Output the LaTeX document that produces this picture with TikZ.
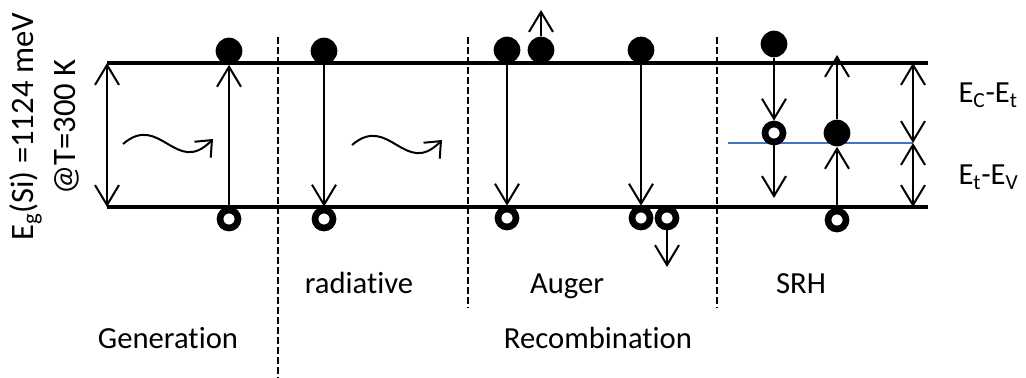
\documentclass[tikz,border=0pt]{standalone}
\usepackage{fontspec}
\setmainfont{Carlito}[Ligatures=NoCommon]
\usetikzlibrary{arrows.meta}

\tikzset{every picture/.style={line width=0.75pt}}
\tikzset{
  band/.style={line width=2.4pt},
  trapline/.style={line width=2.2pt, draw={rgb,255:red,68;green,114;blue,196}},
  divider/.style={line width=1.4pt, dash pattern=on 5pt off 2.5pt},
  electron/.style={circle, fill=black, inner sep=0pt, minimum size=20pt},
  hole/.style={circle, draw=black, line width=5pt, inner sep=0pt, outer sep=2.5pt, minimum size=13.5pt},
  jump/.style={line width=1.5pt, -{Straight Barb[length=15pt,width=18pt]}},
  span/.style={line width=1.5pt, {Straight Barb[length=15pt,width=18pt]}-{Straight Barb[length=15pt,width=18pt]}},
  photon/.style={line width=1.5pt, -{Straight Barb[length=10pt,width=17pt]}},
  lbl/.style={font=\fontsize{23}{27}\selectfont, inner sep=0pt, anchor=base},
  sidelbl/.style={font=\fontsize{24.5}{29}\selectfont, inner sep=0pt, anchor=base, rotate=90},
  elbl/.style={font=\fontsize{23}{27}\selectfont, inner sep=0pt, anchor=base west}
}

\begin{document}
\begin{tikzpicture}[x=0.75pt,y=0.75pt,yscale=-1,xscale=1]
\useasboundingbox (0,0) rectangle (1026,378);

%Band edges
\coordinate (cbL) at (107,63);
\coordinate (cbR) at (928,63);
\coordinate (vbL) at (107,207);
\coordinate (vbR) at (928,207);
\draw[band] (cbL) -- (cbR);
\draw[band] (vbL) -- (vbR);

%Trap level
\coordinate (tL) at (728,143);
\coordinate (tR) at (913,143);
\draw[trapline] (tL) -- (tR);

%Dashed dividers
\coordinate (d1t) at (278,37);
\coordinate (d1b) at (278,378);
\coordinate (d2t) at (468,37);
\coordinate (d2b) at (468,308);
\coordinate (d3t) at (717,37);
\coordinate (d3b) at (717,308);
\draw[divider] (d1t) -- (d1b);
\draw[divider] (d2t) -- (d2b);
\draw[divider] (d3t) -- (d3b);

%Carriers
\node[electron] (eG) at (229,51) {};
\node[hole] (hG) at (229,219) {};
\node[electron] (eR) at (324,51) {};
\node[hole] (hR) at (324,219) {};
\node[electron] (eA1) at (507,50) {};
\node[electron] (eA2) at (541,50) {};
\node[electron] (eA3) at (641,50) {};
\node[hole] (hA1) at (507,218) {};
\node[hole] (hA2) at (641,218) {};
\node[hole] (hA3) at (667,218) {};
\node[electron] (eS1) at (774,44) {};
\node[hole] (hS1) at (774,133) {};
\node[electron] (eS2) at (837,133) {};
\node[hole] (hS2) at (837,220) {};

%Free ends
\coordinate (gapT) at (107,63);
\coordinate (gapB) at (107,207);
\coordinate (upA) at (541,10);
\coordinate (dnA) at (667,267);
\coordinate (dnS) at (774,198);
\coordinate (upS) at (837,55);
\coordinate (sC) at (913,63);
\coordinate (sT) at (913,143);
\coordinate (sV) at (913,207);
\coordinate (w1a) at (123,144);
\coordinate (w1b) at (213,139);
\coordinate (w2a) at (352,145);
\coordinate (w2b) at (442,140);

%Straight Lines
\draw[span] (gapT) -- (gapB);
\draw[jump] (hG) -- (eG);
\draw[jump] (eR) -- (hR);
\draw[jump] (eA1) -- (hA1);
\draw[jump] (eA2) -- (upA);
\draw[jump] (eA3) -- (hA2);
\draw[jump] (hA3) -- (dnA);
\draw[jump] (eS1) -- (hS1);
\draw[jump] (hS1) -- (dnS);
\draw[jump] (eS2) -- (upS);
\draw[jump] (hS2) -- (eS2);
\draw[span] (sC) -- (sT);
\draw[span] (sT) -- (sV);

%Curve Lines
\draw[photon] (w1a) .. controls +(37,-32) and +(-37,38) .. (w1b);
\draw[photon] (w2a) .. controls +(37,-32) and +(-37,38) .. (w2b);

% Text Node
\node[sidelbl] (eg) at (33,127) {E\textsubscript{g}(Si) =1124 meV};
% Text Node
\node[sidelbl] (temp) at (75,127) {@T=300 K};
% Text Node
\node[lbl] (rad) at (359,293) {radiative};
% Text Node
\node[lbl] (aug) at (567,293) {Auger};
% Text Node
\node[lbl] (srh) at (801,293) {SRH};
% Text Node
\node[lbl] (gen) at (168,348) {Generation};
% Text Node
\node[lbl] (rec) at (598,348) {Recombination};
% Text Node
\node[elbl] (ect) at (958,103) {E\textsubscript{C}-E\textsubscript{t}};
% Text Node
\node[elbl] (etv) at (958,185) {E\textsubscript{t}-E\textsubscript{V}};

\end{tikzpicture}
\end{document}
